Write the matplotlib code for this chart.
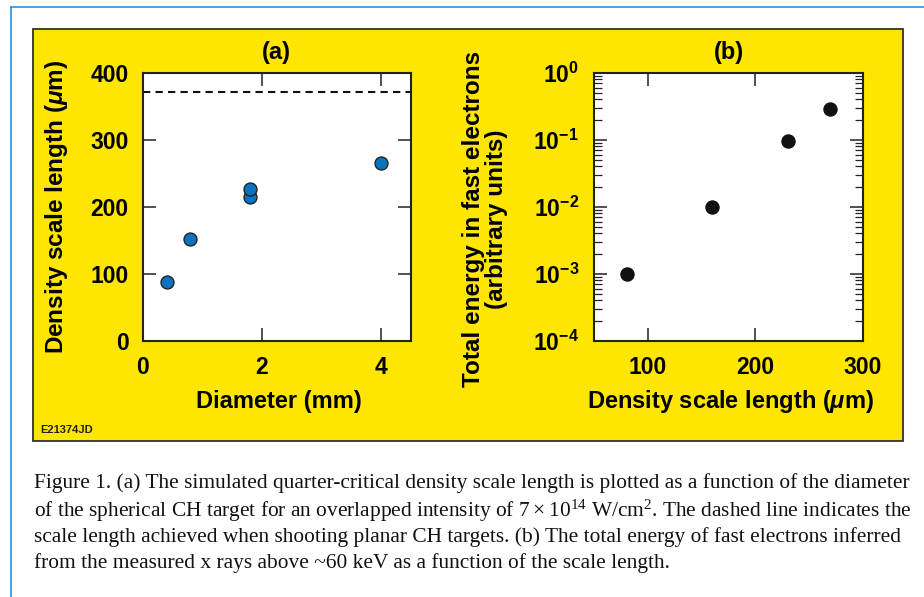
import matplotlib
matplotlib.use("Agg")
import matplotlib.pyplot as plt
from matplotlib.patches import Rectangle
from matplotlib.lines import Line2D

# panel (a): scale length vs target diameter
diam_mm = [0.4, 0.8, 1.8, 1.8, 4.0]
scale_um = [88, 152, 215, 226, 265]
planar_um = 371

# panel (b): fast electron energy vs scale length
ls_um = [80, 160, 230, 270]
energy = [1e-3, 1e-2, 0.095, 0.29]

caption = [
    "Figure 1. (a) The simulated quarter-critical density scale length is plotted as a function of the diameter",
    r"of the spherical CH target for an overlapped intensity of $\mathregular{7\times10^{14}}$ W/cm$\mathregular{^{2}}$. The dashed line indicates the",
    "scale length achieved when shooting planar CH targets. (b) The total energy of fast electrons inferred",
    "from the measured x rays above ~60 keV as a function of the scale length.",
]

W, H = 924, 597
plt.rcParams['font.family'] = 'Liberation Sans'
plt.rcParams['font.weight'] = 'bold'
plt.rcParams['mathtext.fontset'] = 'custom'
plt.rcParams['mathtext.rm'] = 'Liberation Sans:bold'
plt.rcParams['mathtext.bf'] = 'Liberation Sans:bold'
plt.rcParams['mathtext.it'] = 'Liberation Sans:italic'
plt.rcParams['mathtext.default'] = 'rm'

YELLOW = '#FFE600'
DARK = '#222222'
FS = 16.5

fig = plt.figure(figsize=(W / 100, H / 100), dpi=100)


def fx(x):
    return x / W


def fy(y):
    return 1 - y / H


# blue frame
fig.add_artist(Line2D([fx(10.5), fx(10.5)], [0, fy(6.5)], color='#2A93DB', lw=1.2, zorder=-5))
fig.add_artist(Line2D([fx(10.5), 1], [fy(6.5), fy(6.5)], color='#2A93DB', lw=1.2, zorder=-5))

# yellow panel
fig.add_artist(Rectangle((fx(33), fy(441)), fx(903) - fx(33), fy(29) - fy(441),
                         facecolor=YELLOW, edgecolor='#333333', lw=1.3, zorder=-5))


def style(ax):
    for s in ax.spines.values():
        s.set_linewidth(1.5)
        s.set_color(DARK)
    ax.tick_params(which='major', direction='in', length=9.5, width=1.1,
                   color=DARK, labelsize=FS, top=True, right=True)
    ax.tick_params(which='minor', direction='in', length=5.5, width=0.9,
                   color=DARK, top=False, right=True)
    ax.tick_params(axis='y', pad=10)
    ax.tick_params(axis='x', pad=11)
    ax.set_facecolor('white')


# panel a
axa = fig.add_axes([fx(142.7), fy(340.7), fx(411) - fx(142.7), fy(72.7) - fy(340.7)])
axa.scatter(diam_mm, scale_um, s=88, color='#0A72BE', edgecolor='#1a1a1a', lw=0.9, zorder=3)
axa.axhline(planar_um, color='#111111', lw=1.5, ls=(0, (3.5, 2.5)))
axa.set_xlim(0, 4.5)
axa.set_ylim(0, 400)
axa.set_xticks([0, 2, 4])
axa.set_yticks([0, 100, 200, 300, 400])
style(axa)
axa.set_xlabel('Diameter (mm)', fontsize=FS + 0.5, fontweight='bold')
axa.xaxis.set_label_coords(0.509, -0.228)
axa.xaxis.label.set_va('center')
axa.set_ylabel(r'Density scale length ($\mathit{\mu}$m)', fontsize=FS + 1, fontweight='bold')
axa.yaxis.set_label_coords(-0.3205, 0.50)
axa.yaxis.label.set_va('center')
axa.set_title('(a)', fontsize=FS + 0.5, fontweight='bold', pad=10)

# panel b
axb = fig.add_axes([fx(594.3), fy(340.7), fx(862.7) - fx(594.3), fy(72.7) - fy(340.7)])
axb.scatter(ls_um, energy, s=88, color='#111111', zorder=3)
axb.set_yscale('log')
axb.set_xlim(50, 300)
axb.set_ylim(1e-4, 1)
axb.set_xticks([100, 200, 300])
axb.set_yticks([1e-4, 1e-3, 1e-2, 1e-1, 1])
axb.set_yticklabels([r'$10^{-4}$', r'$10^{-3}$', r'$10^{-2}$', r'$10^{-1}$', r'$10^{0}$'])
style(axb)
axb.tick_params(axis='y', pad=11)
axb.set_xlabel(r'Density scale length ($\mathit{\mu}$m)', fontsize=FS + 0.5, fontweight='bold')
axb.xaxis.set_label_coords(0.5086, -0.228)
axb.xaxis.label.set_va('center')
axb.set_ylabel('Total energy in fast electrons\n(arbitrary units)', fontsize=FS + 1,
               fontweight='bold', linespacing=1.0)
axb.yaxis.set_label_coords(-0.408, 0.454)
axb.yaxis.label.set_va('center')
axb.set_title('(b)', fontsize=FS + 0.5, fontweight='bold', pad=10)

fig.text(fx(40), fy(430), 'E21374JD', fontsize=8, fontweight='bold', va='center', color='#222222')

# caption, sized so the first line spans the same width as the reference
base_y = [483, 511, 537, 563]
texts = []
for line, y in zip(caption, base_y):
    t = fig.text(fx(34), fy(y), line, fontsize=12, family='Liberation Serif',
                 fontweight='normal', va='center', ha='left', color='#111111')
    texts.append(t)
r = fig.canvas.get_renderer()
w0 = texts[0].get_window_extent(r).width
for t in texts:
    t.set_fontsize(12 * 872 / w0)

fig.savefig('out.png', dpi=100)
